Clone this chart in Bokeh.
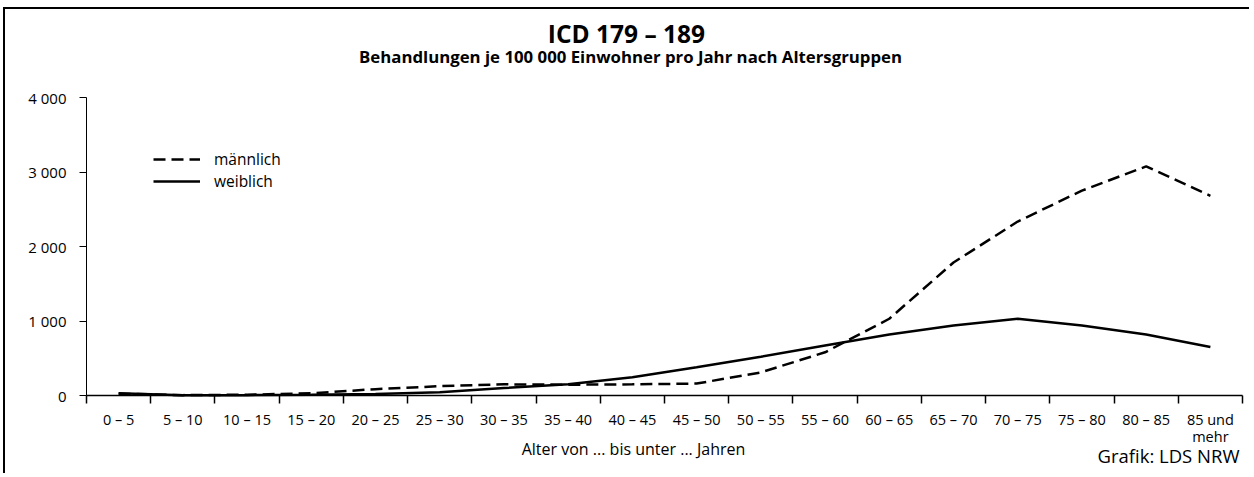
from bokeh.plotting import figure
from bokeh.models import (Range1d, FixedTicker, Legend, LegendItem, Label)
from bokeh.embed import file_html
from bokeh.resources import INLINE

categories = ["0 – 5", "5 – 10", "10 – 15", "15 – 20", "20 – 25", "25 – 30",
              "30 – 35", "35 – 40", "40 – 45", "45 – 50", "50 – 55", "55 – 60",
              "60 – 65", "65 – 70", "70 – 75", "75 – 80", "80 – 85", "85 und\nmehr"]
maennlich = [25, 5, 10, 30, 85, 125, 150, 145, 150, 160, 310, 580,
             1030, 1785, 2335, 2750, 3075, 2680]
weiblich = [30, 5, 5, 10, 20, 45, 100, 150, 245, 380, 520, 670,
            820, 940, 1030, 940, 820, 650]
y_ticks = [0, 1000, 2000, 3000, 4000]
y_tick_labels = ["0", "1 000", "2 000", "3 000", "4 000"]

FONT = "Open Sans"
N = len(categories)
YMAX = y_ticks[-1]

# ---- layout (page pixels) ----
W, H = 1246, 466            # canvas size
CX0, CY0 = 5, 9             # canvas top-left on the page
AX_L, AX_R = 86, 1242       # x-axis extent on page
AX_T, AX_B = 97, 395        # y-axis extent on page (top = YMAX, bottom = 0)
sx = (AX_R - AX_L) / N
sy = (AX_B - AX_T) / YMAX

def dx(px):
    return (px - AX_L) / sx

def dy(py):
    return (AX_B - py) / sy

xs = [i + 0.5 for i in range(N)]

p = figure(width=W, height=H, output_backend="svg", toolbar_location=None,
           x_range=Range1d(dx(CX0), dx(CX0 + W)),
           y_range=Range1d(dy(CY0 + H), dy(CY0)),
           min_border_left=0, min_border_right=0, min_border_top=0, min_border_bottom=0)
p.styles = {"border-top": "2px solid black", "border-left": "2px solid black",
            "margin-top": "7px", "margin-left": "3px"}
p.outline_line_color = None
p.xgrid.visible = False
p.ygrid.visible = False
p.background_fill_color = "white"
p.border_fill_color = "white"

# x axis (fixed at y = 0)
p.xaxis.fixed_location = 0
p.xaxis.bounds = (0, N)
p.xaxis.ticker = FixedTicker(ticks=xs, minor_ticks=list(range(N + 1)))
p.xaxis.major_label_overrides = {x: c for x, c in zip(xs, categories)}
p.xaxis.major_tick_line_color = None
p.xaxis.minor_tick_line_color = "black"
p.xaxis.minor_tick_line_width = 1.5
p.xaxis.minor_tick_out = 8
p.xaxis.minor_tick_in = 0
p.xaxis.axis_line_color = "black"
p.xaxis.axis_line_width = 1.5
p.xaxis.major_label_text_font = FONT
p.xaxis.major_label_text_font_size = "14.5px"
p.xaxis.major_label_text_line_height = 0.9
p.xaxis.major_label_text_color = "black"
p.xaxis.major_label_standoff = 6

# y axis (fixed at x = 0)
p.yaxis.fixed_location = 0
p.yaxis.bounds = (0, YMAX)
p.yaxis.ticker = FixedTicker(ticks=y_ticks, minor_ticks=[])
p.yaxis.major_label_overrides = {v: s for v, s in zip(y_ticks, y_tick_labels)}
p.yaxis.major_tick_out = 7
p.yaxis.major_tick_in = 0
p.yaxis.major_tick_line_color = "black"
p.yaxis.axis_line_color = "black"
p.yaxis.axis_line_width = 1
p.yaxis.major_label_text_font = FONT
p.yaxis.major_label_text_font_size = "15px"
p.yaxis.major_label_text_color = "black"
p.yaxis.major_label_standoff = 13

r_m = p.line(xs, maennlich, line_color="black", line_width=2.5, line_dash="12 6")
r_w = p.line(xs, weiblich, line_color="black", line_width=2.5)

legend = Legend(items=[LegendItem(label="männlich", renderers=[r_m]),
                       LegendItem(label="weiblich", renderers=[r_w])],
                location=(148, CY0 + H - 192), orientation="vertical",
                glyph_width=47, glyph_height=18, label_height=18,
                label_standoff=14, spacing=0, padding=0, margin=0,
                border_line_color=None, background_fill_alpha=0,
                label_text_font=FONT, label_text_font_size="15.5px",
                label_text_line_height=1.0,
                label_text_color="black")
p.add_layout(legend)

def lbl(text, px, py, size, bold=False, align="center"):
    p.add_layout(Label(x=dx(px), y=dy(py), text=text, text_font=FONT,
                       text_font_size=f"{size}px",
                       text_font_style="bold" if bold else "normal",
                       text_align=align, text_baseline="alphabetic", text_color="black"))

lbl("ICD 179 – 189", 626, 33, 24.5, bold=True)
lbl("Behandlungen je 100 000 Einwohner pro Jahr nach Altersgruppen", 630, 56, 16.8, bold=True)
lbl("Alter von ... bis unter ... Jahren", 633, 448.5, 16)
lbl("Grafik: LDS NRW", 1239, 454.5, 18.5, align="right")

open("out.html", "w").write(file_html(p, INLINE))
